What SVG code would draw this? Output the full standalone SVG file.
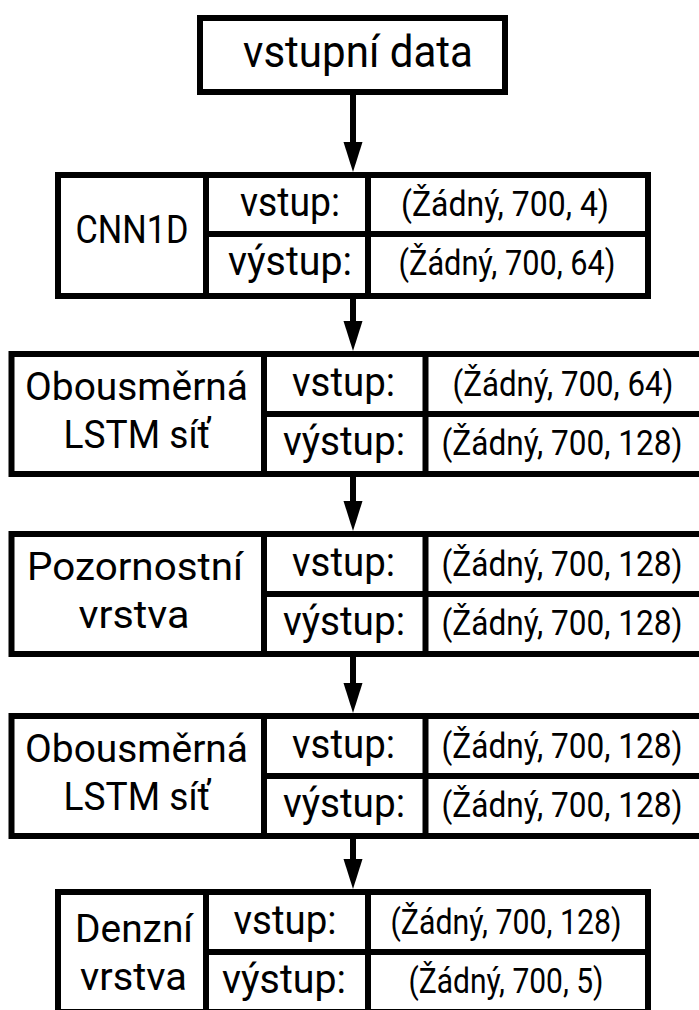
<svg xmlns="http://www.w3.org/2000/svg" width="699" height="1010" viewBox="0 0 699 1010">
<defs>
<style>
.box{fill:#fff;stroke:#000;stroke-width:6}
.div{stroke:#000;stroke-width:6;fill:none}
.conn{stroke:#000;stroke-width:6;fill:none}
text{font-family:Roboto,"DejaVu Sans",sans-serif;fill:#000;text-anchor:middle}
.title{font-size:45px}
.name{font-size:39px}
.lab{font-size:41px}
.val{font-size:35px}
</style>
<marker id="ah" markerUnits="userSpaceOnUse" markerWidth="32" markerHeight="20" refX="2" refY="9.5" orient="auto">
<path d="M0,0 L30,9.5 L0,19 Z" fill="#000"/>
</marker>
</defs>
<rect width="699" height="1010" fill="#fff"/>

<g id="connectors">
<line class="conn" x1="353" y1="95" x2="353" y2="144" marker-end="url(#ah)"/>
<line class="conn" x1="353" y1="296" x2="353" y2="323" marker-end="url(#ah)"/>
<line class="conn" x1="353" y1="474" x2="353" y2="503" marker-end="url(#ah)"/>
<line class="conn" x1="353" y1="654" x2="353" y2="685" marker-end="url(#ah)"/>
<line class="conn" x1="353" y1="836" x2="353" y2="861" marker-end="url(#ah)"/>
</g>

<g id="input">
<rect class="box" x="200" y="18" width="305" height="74"/>
<text class="title" x="358" y="67" textLength="230" lengthAdjust="spacingAndGlyphs">vstupní data</text>
</g>

<g id="cnn1d">
<rect class="box" x="58" y="175" width="590" height="121"/>
<line class="div" x1="206" y1="175" x2="206" y2="296"/>
<line class="div" x1="368" y1="175" x2="368" y2="296"/>
<line class="div" x1="206" y1="234" x2="648" y2="234"/>
<text class="name" x="132" y="243" textLength="113" lengthAdjust="spacingAndGlyphs">CNN1D</text>
<text class="lab" x="290" y="216" textLength="100" lengthAdjust="spacingAndGlyphs">vstup:</text>
<text class="lab" x="290" y="275" textLength="124" lengthAdjust="spacingAndGlyphs">výstup:</text>
<text class="val" x="505" y="216" textLength="208" lengthAdjust="spacingAndGlyphs">(Žádný, 700, 4)</text>
<text class="val" x="507" y="275" textLength="217" lengthAdjust="spacingAndGlyphs">(Žádný, 700, 64)</text>
</g>

<g id="bilstm1">
<path class="box" d="M699,354 H11.5 V474 H699"/>
<line class="div" x1="264" y1="354" x2="264" y2="474"/>
<line class="div" x1="425.5" y1="354" x2="425.5" y2="474"/>
<line class="div" x1="264" y1="414" x2="699" y2="414"/>
<text class="name" x="136.5" y="400" textLength="223" lengthAdjust="spacingAndGlyphs">Obousměrná</text>
<text class="name" x="137" y="448" textLength="147" lengthAdjust="spacingAndGlyphs">LSTM síť</text>
<text class="lab" x="343.5" y="396" textLength="103" lengthAdjust="spacingAndGlyphs">vstup:</text>
<text class="lab" x="344" y="455" textLength="122" lengthAdjust="spacingAndGlyphs">výstup:</text>
<text class="val" x="563" y="396" textLength="221" lengthAdjust="spacingAndGlyphs">(Žádný, 700, 64)</text>
<text class="val" x="562" y="455" textLength="241" lengthAdjust="spacingAndGlyphs">(Žádný, 700, 128)</text>
</g>

<g id="attention">
<path class="box" d="M699,534 H11.5 V654 H699"/>
<line class="div" x1="264" y1="534" x2="264" y2="654"/>
<line class="div" x1="425.5" y1="534" x2="425.5" y2="654"/>
<line class="div" x1="264" y1="594" x2="699" y2="594"/>
<text class="name" x="135" y="580" textLength="216" lengthAdjust="spacingAndGlyphs">Pozornostní</text>
<text class="name" x="134" y="628" textLength="111" lengthAdjust="spacingAndGlyphs">vrstva</text>
<text class="lab" x="343.5" y="576" textLength="103" lengthAdjust="spacingAndGlyphs">vstup:</text>
<text class="lab" x="344" y="635" textLength="122" lengthAdjust="spacingAndGlyphs">výstup:</text>
<text class="val" x="562" y="576" textLength="241" lengthAdjust="spacingAndGlyphs">(Žádný, 700, 128)</text>
<text class="val" x="562" y="635" textLength="241" lengthAdjust="spacingAndGlyphs">(Žádný, 700, 128)</text>
</g>

<g id="bilstm2">
<path class="box" d="M699,716 H11.5 V836 H699"/>
<line class="div" x1="264" y1="716" x2="264" y2="836"/>
<line class="div" x1="425.5" y1="716" x2="425.5" y2="836"/>
<line class="div" x1="264" y1="776" x2="699" y2="776"/>
<text class="name" x="136.5" y="762" textLength="223" lengthAdjust="spacingAndGlyphs">Obousměrná</text>
<text class="name" x="137" y="810" textLength="147" lengthAdjust="spacingAndGlyphs">LSTM síť</text>
<text class="lab" x="343.5" y="758" textLength="103" lengthAdjust="spacingAndGlyphs">vstup:</text>
<text class="lab" x="344" y="817" textLength="122" lengthAdjust="spacingAndGlyphs">výstup:</text>
<text class="val" x="562" y="758" textLength="241" lengthAdjust="spacingAndGlyphs">(Žádný, 700, 128)</text>
<text class="val" x="562" y="817" textLength="241" lengthAdjust="spacingAndGlyphs">(Žádný, 700, 128)</text>
</g>

<g id="dense">
<rect class="box" x="58" y="892" width="590" height="120"/>
<line class="div" x1="206" y1="892" x2="206" y2="1012"/>
<line class="div" x1="368" y1="892" x2="368" y2="1012"/>
<line class="div" x1="206" y1="952" x2="648" y2="952"/>
<text class="name" x="134" y="942" textLength="118" lengthAdjust="spacingAndGlyphs">Denzní</text>
<text class="name" x="133.5" y="990" textLength="107" lengthAdjust="spacingAndGlyphs">vrstva</text>
<text class="lab" x="285" y="934" textLength="103" lengthAdjust="spacingAndGlyphs">vstup:</text>
<text class="lab" x="284" y="993" textLength="124" lengthAdjust="spacingAndGlyphs">výstup:</text>
<text class="val" x="506" y="934" textLength="231" lengthAdjust="spacingAndGlyphs">(Žádný, 700, 128)</text>
<text class="val" x="506" y="993" textLength="195" lengthAdjust="spacingAndGlyphs">(Žádný, 700, 5)</text>
</g>
</svg>
